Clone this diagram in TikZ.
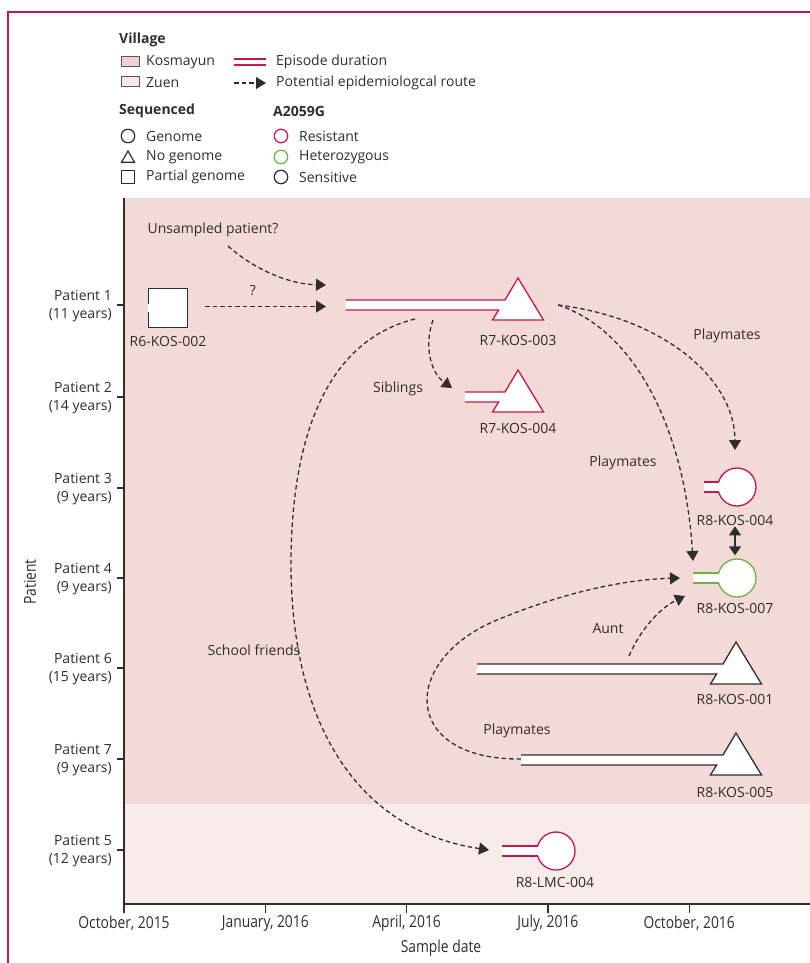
\documentclass[tikz,border=0pt]{standalone}
\usepackage{fontspec}
\setmainfont{Open Sans}
\newfontfamily\axisfont[FakeStretch=0.84]{Open Sans}
\usetikzlibrary{arrows.meta, shapes.geometric}
\definecolor{lancetink}{HTML}{2E2E2E}
\definecolor{lancetred}{HTML}{C8174A}
\definecolor{lancetgreen}{HTML}{6DB33F}
\definecolor{kosmayunwash}{HTML}{F3DAD7}
\definecolor{zuenwash}{HTML}{F9EBEA}
\definecolor{kosmayunswatch}{HTML}{EFD0CC}
\definecolor{zuenswatch}{HTML}{F9E6E5}
% episode bar ending in a triangle: name, colour, bar start, apex x, row
\newcommand{\episodetri}[5]{%
  \filldraw[episode, draw=#2] (#3,#5-5) -- (#4-13,#5-5) -- (#4,#5-27) -- (#4+25.5,#5+15)
    -- (#4-25.5,#5+15) -- (#4-19.4,#5+5) -- (#3,#5+5);
  \coordinate (#1) at (#4,#5);}
% episode stub ending in a circle: name, colour, stub start, centre x, row
\newcommand{\episodecirc}[5]{%
  \node[genome, draw=#2] (#1) at (#4,#5) {};
  \fill[white] (#3,#5-5) rectangle (#4-16.5,#5+5);
  \draw[draw=#2, line width=1.3pt] (#3,#5-5) -- (#4-18.3,#5-5) (#3,#5+5) -- (#4-18.3,#5+5);}
\tikzset{
  labeltext/.style={font=\fontsize{14}{18}\selectfont, text=lancetink, inner sep=1pt},
  headtext/.style={labeltext, font=\fontsize{14}{18}\selectfont\bfseries, anchor=west},
  axistext/.style={font=\axisfont\fontsize{16.5}{19}\selectfont, text=lancetink, inner sep=1pt},
  axisline/.style={line width=1.3pt, draw=lancetink},
  route/.style={
    -{Triangle[length=10pt,width=12pt]},
    line width=1.3pt,
    draw=lancetink,
    dash pattern=on 4.5pt off 3pt
  },
  swapline/.style={
    {Triangle[length=9pt,width=12pt]}-{Triangle[length=9pt,width=12pt]},
    line width=1.3pt,
    draw=lancetink
  },
  episode/.style={fill=white, line width=1.3pt},
  genome/.style={circle, draw, fill=white, line width=1.3pt, minimum size=38pt, inner sep=0pt},
  partial/.style={rectangle, draw=lancetink, fill=white, line width=1.3pt, minimum size=39pt, inner sep=0pt},
  swatch/.style={rectangle, draw=lancetink!80, line width=1pt, minimum width=18pt, minimum height=10pt, inner sep=0pt},
  legcirc/.style={circle, draw, line width=1.2pt, minimum size=13.5pt, inner sep=0pt},
  legtri/.style={regular polygon, regular polygon sides=3, draw=lancetink, line width=1.2pt, minimum size=15pt, inner sep=0pt},
  legsq/.style={rectangle, draw=lancetink, line width=1.2pt, minimum size=12.5pt, inner sep=0pt}
}

\begin{document}
\begin{tikzpicture}[x=1pt,y=-1pt]
\useasboundingbox (0,0) rectangle (810,963);

% frame
\draw[lancetred, line width=2pt] (8,963) -- (8,12) -- (810,12);

% legend
\node[headtext] (village) at (118,40) {Village};
\node[swatch, fill=kosmayunswatch] (kosbox) at (130.5,61.5) {};
\node[labeltext, anchor=west] (koslab) at (145,62) {Kosmayun};
\node[swatch, fill=zuenswatch] (zuenbox) at (130.5,82) {};
\node[labeltext, anchor=west] (zuenlab) at (145,82.5) {Zuen};
\coordinate (epA) at (234,62);
\coordinate (epB) at (266,62);
\draw[lancetred, line width=1.3pt] ([yshift=-3pt]epA) -- ([yshift=-3pt]epB)
  ([yshift=3pt]epA) -- ([yshift=3pt]epB);
\node[labeltext, anchor=west] (eplab) at (275,62) {Episode duration};
\coordinate (rtA) at (234,83);
\coordinate (rtB) at (266,83);
\draw[route] (rtA) -- (rtB);
\node[labeltext, anchor=west] (rtlab) at (275,83) {Potential epidemiologcal route};

\node[headtext] (seqhead) at (118,111) {Sequenced};
\node[headtext] (a2059g) at (272,111) {A2059G};
\node[legcirc, draw=lancetink] (gencirc) at (128,136) {};
\node[legtri] (notri) at (128,158.5) {};
\node[legsq] (partsq) at (128,177) {};
\node[labeltext, anchor=west] (genlab) at (145,136) {Genome};
\node[labeltext, anchor=west] (nolab) at (145,157) {No genome};
\node[labeltext, anchor=west] (partlab) at (145,177) {Partial genome};
\node[legcirc, draw=lancetred] (rescirc) at (281,136) {};
\node[legcirc, draw=lancetgreen] (hetcirc) at (281,157) {};
\node[legcirc, draw=lancetink] (sencirc) at (281,177) {};
\node[labeltext, anchor=west] (reslab) at (298,136) {Resistant};
\node[labeltext, anchor=west] (hetlab) at (298,157) {Heterozygous};
\node[labeltext, anchor=west] (senlab) at (298,177) {Sensitive};

% villages and axes
\fill[kosmayunwash] (124,198) rectangle (810,804);
\fill[zuenwash] (124,804) rectangle (810,904);
\draw[axisline] (124,198) -- (124,904) -- (810,904);
\foreach \yy/\who/\age in {305/1/11, 397/2/14, 488/3/9, 578/4/9, 668/6/15, 759/7/9, 850/5/12}{
  \draw[axisline] (117,\yy) -- (124,\yy);
  \node[labeltext, align=right, anchor=east] (patient\who) at (113,\yy+1) {Patient \who\\(\age\ years)};
}
\foreach \xx/\mon [count=\j] in {124/{October, 2015}, 265.3/{January, 2016},
    406.6/{April, 2016}, 547.9/{July, 2016}, 689.2/{October, 2016}}{
  \draw[axisline] (\xx,904) -- (\xx,913);
  \node[axistext] (month\j) at (\xx,923) {\mon};
}
\node[axistext] (xtitle) at (441,948) {Sample date};
\node[axistext, rotate=90] (ytitle) at (30,582) {Patient};

% route labels
\node[labeltext] (unsampled) at (213,230) {Unsampled patient?};
\node[labeltext] (qmark) at (253,291) {?};
\node[labeltext] (siblings) at (398,389) {Siblings};
\node[labeltext] (school) at (254,650) {School friends};
\node[labeltext] (playA) at (727,336) {Playmates};
\node[labeltext] (playB) at (623,463) {Playmates};
\node[labeltext] (aunt) at (608,629) {Aunt};
\node[labeltext] (playC) at (517,731) {Playmates};

% route ends
\coordinate (unsOut) at (228,246);
\coordinate (unsIn) at (326,285);
\coordinate (qOut) at (205,306.5);
\coordinate (qIn) at (326,306.5);
\coordinate (sibOut) at (433,320);
\coordinate (sibIn) at (452,388);
\coordinate (schOut) at (415,319);
\coordinate (schMid) at (291,560);
\coordinate (lmcIn) at (489,850);
\coordinate (playOut) at (558,305);
\coordinate (r84In) at (735,450);
\coordinate (r87InA) at (693,561);
\coordinate (auntOut) at (629,656);
\coordinate (r87InB) at (685,596);
\coordinate (playCOut) at (521,759);
\coordinate (playCMid) at (497,620);
\coordinate (r87InC) at (680,578);

\draw[route] (unsOut) .. controls (250,266) and (285,284) .. (unsIn);
\draw[route] (qOut) -- (qIn);
\draw[route] (sibOut) .. controls (424,345) and (430,372) .. (sibIn);
\draw[route] (schOut) .. controls (330,340) and (292,430) .. (schMid)
  .. controls (290,720) and (355,830) .. (lmcIn);
\draw[route] (playOut) .. controls (665,318) and (735,380) .. (r84In);
\draw[route] (playOut) .. controls (635,330) and (685,430) .. (r87InA);
\draw[route] (auntOut) .. controls (640,630) and (660,608) .. (r87InB);
\draw[route] (playCOut) .. controls (400,760) and (400,660) .. (playCMid)
  .. controls (545,600) and (610,580) .. (r87InC);

% samples
\node[partial] (r6) at (168,308) {};
\fill[white] (147.5,303.5) rectangle (150.5,311.5);
\episodetri{p1tri}{lancetred}{345.5}{518}{305}
\episodetri{p2tri}{lancetred}{465}{518}{397}
\episodecirc{r84}{lancetred}{704}{737}{487}
\episodecirc{r87}{lancetgreen}{693}{737}{578}
\episodetri{p6tri}{lancetink}{477}{736}{669}
\episodetri{p7tri}{lancetink}{521}{736}{760}
\episodecirc{lmc}{lancetred}{502}{556}{851}

\node[labeltext] (r6lab) at (168,341) {R6-KOS-002};
\node[labeltext] (r73lab) at (518,340) {R7-KOS-003};
\node[labeltext] (r74lab) at (518,428) {R7-KOS-004};
\node[labeltext] (r84lab) at (735,520) {R8-KOS-004};
\node[labeltext] (r87lab) at (735,608) {R8-KOS-007};
\node[labeltext] (r81lab) at (735,699) {R8-KOS-001};
\node[labeltext] (r85lab) at (735,792) {R8-KOS-005};
\node[labeltext] (lmclab) at (555,882) {R8-LMC-004};

\draw[swapline, shorten >=3pt] (r84lab.south) -- (r84lab.south |- r87.north);
\end{tikzpicture}
\end{document}
